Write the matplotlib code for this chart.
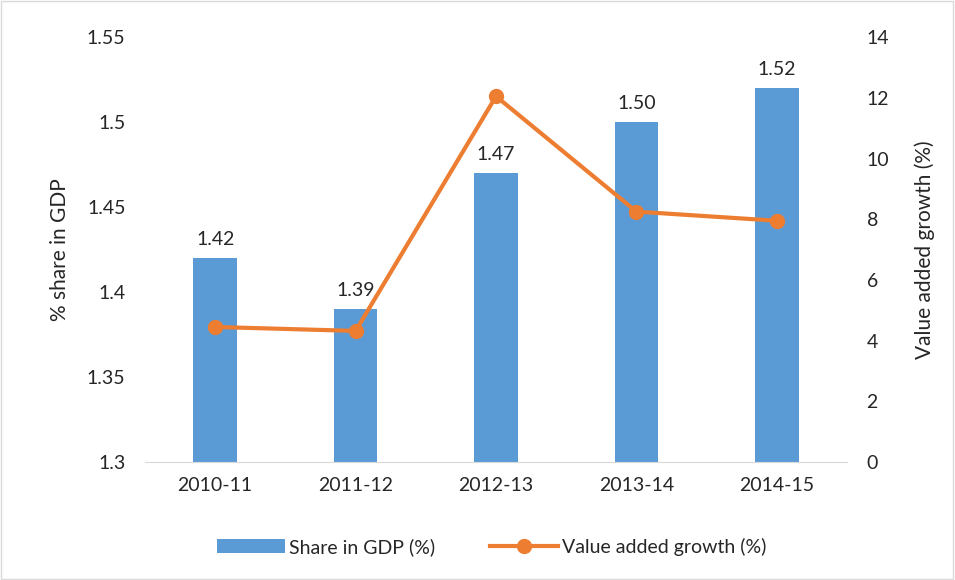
import matplotlib
matplotlib.use("Agg")
import matplotlib.pyplot as plt
import numpy as np
from matplotlib.patches import Rectangle

categories = ["2010-11", "2011-12", "2012-13", "2013-14", "2014-15"]
share_gdp = [1.42, 1.39, 1.47, 1.50, 1.52]
growth = [4.45, 4.32, 12.05, 8.25, 7.95]

plt.rcParams['font.family'] = ['Lato', 'DejaVu Sans']
txt = '#262626'

fig = plt.figure(figsize=(9.55, 5.8), dpi=100)
ax = fig.add_axes([0.1518, 0.2034, 0.7352, 0.7326])
x = np.arange(len(categories))
ax.bar(x, share_gdp, width=0.31, color='#5B9BD5', label='Share in GDP (%)', zorder=2)
ax.set_ylim(1.3, 1.55)
ax.set_yticks([1.3, 1.35, 1.4, 1.45, 1.5, 1.55])
ax.set_yticklabels(['1.3', '1.35', '1.4', '1.45', '1.5', '1.55'])
ax.set_xlim(-0.5, 4.5)
ax.set_xticks(x)
ax.set_xticklabels(categories)
for s in ['top', 'right', 'left']:
    ax.spines[s].set_visible(False)
ax.spines['bottom'].set_color('#D9D9D9')
ax.tick_params(axis='both', length=0, labelsize=14, colors=txt, pad=14)
ax.tick_params(axis='x', pad=11)
ax.set_ylabel('% share in GDP', fontsize=15, color=txt, labelpad=12)
for xi, v in zip(x, share_gdp):
    ax.text(xi, v + 0.006, f"{v:.2f}", ha='center', va='bottom', fontsize=14, color=txt)

ax2 = ax.twinx()
ax2.plot(x, growth, color='#ED7D31', lw=3, marker='o', markersize=10,
         label='Value added growth (%)', zorder=3)
ax2.set_ylim(0, 14)
ax2.set_yticks(range(0, 15, 2))
for s in ['top', 'right', 'left', 'bottom']:
    ax2.spines[s].set_visible(False)
ax2.tick_params(axis='y', length=0, labelsize=14, colors=txt, pad=14)
ax2.set_ylabel('Value added growth (%)', fontsize=15, color=txt, labelpad=18)

h1, l1 = ax.get_legend_handles_labels()
h2, l2 = ax2.get_legend_handles_labels()
fig.legend(h1 + h2, l1 + l2, loc='center', bbox_to_anchor=(0.515, 0.057), ncol=2,
           frameon=False, fontsize=14, handlelength=3.5, columnspacing=2.8,
           handletextpad=0.2, labelcolor=txt)

fig.patches.append(Rectangle((0.001, 0.001), 0.997, 0.997, transform=fig.transFigure,
                             fill=False, edgecolor='#D9D9D9', lw=1))
fig.savefig('out.png', dpi=100)
